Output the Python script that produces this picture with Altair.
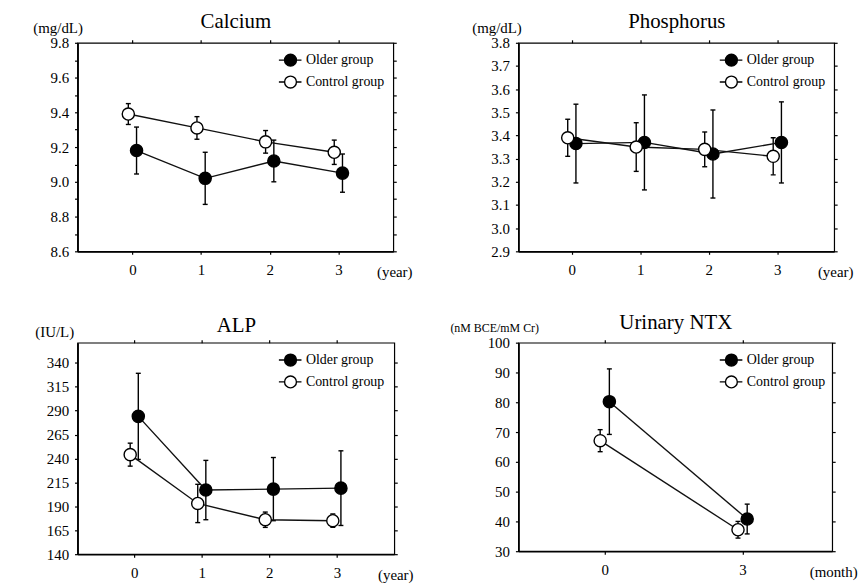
import altair as alt
import pandas as pd

FONT = "Liberation Serif"
groups = ["Older group", "Control group"]

years = [0, 1, 2, 3]
months = [0, 3]

calcium_older = [9.18, 9.02, 9.12, 9.05]
calcium_older_sd = [0.135, 0.15, 0.12, 0.11]
calcium_control = [9.39, 9.31, 9.23, 9.17]
calcium_control_sd = [0.06, 0.065, 0.065, 0.07]

phos_older = [3.365, 3.37, 3.32, 3.37]
phos_older_sd = [0.17, 0.205, 0.19, 0.175]
phos_control = [3.39, 3.35, 3.34, 3.31]
phos_control_sd = [0.08, 0.105, 0.075, 0.08]

alp_older = [284, 207, 208, 209]
alp_older_sd = [45, 31, 33, 39]
alp_control = [244, 193, 176, 175]
alp_control_sd = [12, 20, 8, 7]

ntx_older = [80.2, 40.8]
ntx_older_sd = [11, 5]
ntx_control = [67.1, 37.2]
ntx_control_sd = [3.7, 2.8]

calcium_ticks = [round(8.6 + 0.1 * i, 1) for i in range(13)]
phos_ticks = [round(2.9 + 0.1 * i, 1) for i in range(10)]
alp_ticks = [140, 165, 190, 215, 240, 265, 290, 315, 340]
ntx_ticks = [30, 40, 50, 60, 70, 80, 90, 100]

SYMBOL = ("M-1.8,0L-0.92,0M0.92,0L1.7,0"
          "M-0.92,0A0.92,0.92,0,1,1,0.92,0A0.92,0.92,0,1,1,-0.92,0Z")


def build(xs, older, older_sd, control, control_sd, shift):
    rows = []
    for g, vals, sds, s in ((groups[0], older, older_sd, shift),
                            (groups[1], control, control_sd, -shift)):
        for x, v, e in zip(xs, vals, sds):
            rows.append({"group": g, "x": x + s, "v": v, "lo": v - e, "hi": v + e})
    return pd.DataFrame(rows)


def panel(df, title, unit, xtitle, xdomain, xvals, ydomain, yvals, label_expr,
          w, h, title_y, unit_x, unit_y, unit_size=15):
    xs = alt.Scale(domain=xdomain, nice=False, zero=False)
    ys = alt.Scale(domain=ydomain, nice=False, zero=False)
    base = alt.Chart(df)
    x_none = alt.X("x:Q", scale=xs, axis=None)
    rules = base.mark_rule(color="black", strokeWidth=1.4).encode(
        x=x_none, y=alt.Y("lo:Q", scale=ys, axis=None), y2="hi:Q")
    cap_lo = base.mark_tick(orient="horizontal", size=5, thickness=1.4, color="black", opacity=1).encode(
        x=x_none, y=alt.Y("lo:Q", scale=ys, axis=None))
    cap_hi = base.mark_tick(orient="horizontal", size=5, thickness=1.4, color="black", opacity=1).encode(
        x=x_none, y=alt.Y("hi:Q", scale=ys, axis=None))
    line = base.mark_line(color="#111111", strokeWidth=1.4).encode(
        x=alt.X("x:Q", scale=xs, axis=alt.Axis(
            orient="top", values=xvals, labels=False, domain=False, tickSize=3,
            title=title, titleFont=FONT, titleFontSize=21, titleFontWeight="normal",
            titleX=w / 2, titleY=title_y, titleAlign="center", titleBaseline="alphabetic")),
        y=alt.Y("v:Q", scale=ys, axis=alt.Axis(
            orient="right", values=yvals, labels=False, domain=False, tickSize=3, title=None)),
        detail="group:N")
    points = base.mark_point(shape="circle", filled=True, size=150, stroke="black",
                             strokeWidth=1.4, opacity=1).encode(
        x=alt.X("x:Q", scale=xs, axis=alt.Axis(
            orient="bottom", values=xvals, format="d", tickSize=3, labelPadding=8,
            labelFont=FONT, labelFontSize=15, domainWidth=1.8, labelFlush=False,
            title=xtitle, titleFont=FONT, titleFontSize=15, titleFontWeight="normal",
            titleX=w + 1, titleY=25, titleAlign="center", titleBaseline="alphabetic")),
        y=alt.Y("v:Q", scale=ys, axis=alt.Axis(
            orient="left", values=yvals, labelExpr=label_expr, tickSize=3, labelPadding=6,
            labelFont=FONT, labelFontSize=15, domainWidth=1.8, labelFlush=False, labelOverlap=False,
            title=unit, titleFont=FONT, titleFontSize=unit_size, titleFontWeight="normal",
            titleAngle=0, titleAlign="left",
            titleBaseline="alphabetic", titleX=unit_x, titleY=unit_y)),
        fill=alt.Fill("group:N", scale=alt.Scale(domain=groups, range=["black", "white"]),
                      legend=alt.Legend(
                          orient="none", legendX=207, legendY=10, title=None,
                          symbolType=SYMBOL, symbolSize=169, symbolStrokeColor="black",
                          symbolStrokeWidth=1.4, labelFont=FONT, labelFontSize=14,
                          labelOffset=8, rowPadding=3, padding=0)))
    return alt.layer(rules, cap_lo, cap_hi, line, points).resolve_axis(
        x="independent", y="independent").properties(width=w, height=h)


one_dec = "abs(round(datum.value*10)) % 2 == 0 ? format(datum.value, '.1f') : ''"

p1 = panel(build(years, calcium_older, calcium_older_sd, calcium_control, calcium_control_sd, 0.06),
           "Calcium", "(mg/dL)", "(year)", [-0.8, 3.8], years, [8.6, 9.8], calcium_ticks,
           one_dec, 318, 210, -15, -45, -10)
p2 = panel(build(years, phos_older, phos_older_sd, phos_control, phos_control_sd, 0.06),
           "Phosphorus", "(mg/dL)", "(year)", [-0.78, 3.83], years, [2.9, 3.8], phos_ticks,
           "format(datum.value, '.1f')", 318, 210, -15, -47, -10)
p3 = panel(build(years, alp_older, alp_older_sd, alp_control, alp_control_sd, 0.06),
           "ALP", "(IU/L)", "(year)", [-0.84, 3.85], years, [140, 361], alp_ticks,
           "format(datum.value, 'd')", 319, 213, -11, -43, -6)
p4 = panel(build(months, ntx_older, ntx_older_sd, ntx_control, ntx_control_sd, 0.1),
           "Urinary NTX", "(nM BCE/mM Cr)", "(month)", [-1.88, 4.95], months, [30, 100], ntx_ticks,
           "format(datum.value, 'd')", 316, 210, -14, -69, -11, unit_size=12)

chart = alt.concat(p1, p2, p3, p4, columns=2, spacing={"row": 31, "column": 35}).resolve_scale(
    x="independent", y="independent", fill="independent"
).properties(
    padding={"left": 24, "top": 0, "right": 0, "bottom": 0}
).configure(font=FONT).configure_axis(
    grid=False, labelFont=FONT, titleFont=FONT, labelColor="black", titleColor="black",
    titleFontWeight="normal", tickColor="black", domainColor="black", tickWidth=1.2
).configure_legend(labelFont=FONT, labelColor="black").configure_view(stroke="black", strokeWidth=1.2)

chart.save("out.html", embed_options={"renderer": "svg", "actions": False})
